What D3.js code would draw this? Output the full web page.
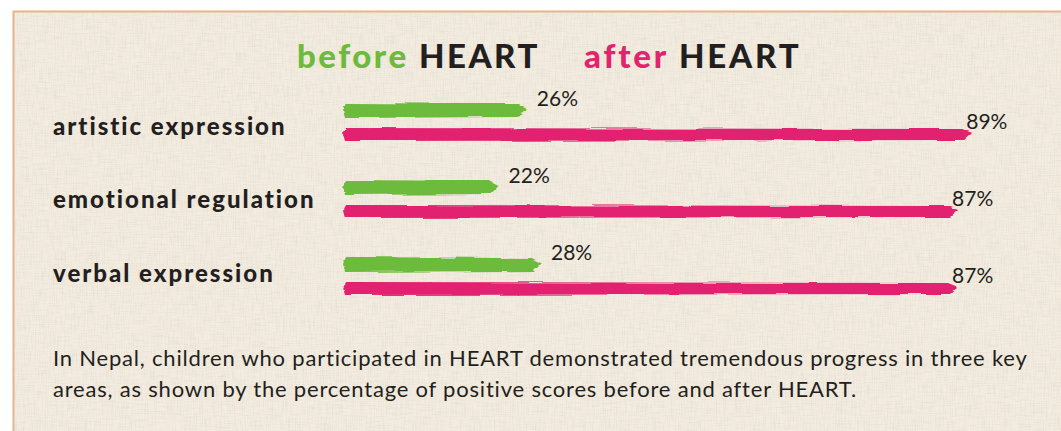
<!DOCTYPE html>
<html>
<head>
<meta charset="utf-8">
<script src="https://cdn.jsdelivr.net/npm/d3@7"></script>
<style>
  html, body { margin: 0; padding: 0; background: #fff; }
  svg { display: block; }
  text { font-family: Lato, "Open Sans", sans-serif; fill: #231f20; }
</style>
</head>
<body>
<div id="chart"></div>
<script>
// Data
const categories = ["artistic expression", "emotional regulation", "verbal expression"];
const before = [26, 22, 28];
const after = [89, 87, 87];
const caption = [
  "In Nepal, children who participated in HEART demonstrated tremendous progress in three key",
  "areas, as shown by the percentage of positive scores before and after HEART."
];

const green = "#6cbb3c";
const pink = "#e2246f";

function drawChart() {
  const width = 1061, height = 431;

  const svg = d3.select("#chart").append("svg")
    .attr("width", width)
    .attr("height", height);

  const defs = svg.append("defs");

  // linen texture (horizontal + vertical threads)
  const tex = defs.append("filter").attr("id", "linen")
    .attr("x", 0).attr("y", 0).attr("width", "100%").attr("height", "100%");
  tex.append("feTurbulence").attr("type", "fractalNoise")
    .attr("baseFrequency", "0.9 0.06").attr("numOctaves", 2).attr("seed", 3).attr("result", "n1");
  tex.append("feColorMatrix").attr("in", "n1").attr("type", "matrix")
    .attr("values", "0 0 0 0 0.6  0 0 0 0 0.56  0 0 0 0 0.5  0 0 0 -1.3 0.75");

  const tex2 = defs.append("filter").attr("id", "linen2")
    .attr("x", 0).attr("y", 0).attr("width", "100%").attr("height", "100%");
  tex2.append("feTurbulence").attr("type", "fractalNoise")
    .attr("baseFrequency", "0.06 0.9").attr("numOctaves", 2).attr("seed", 7).attr("result", "n1");
  tex2.append("feColorMatrix").attr("in", "n1").attr("type", "matrix")
    .attr("values", "0 0 0 0 0.62  0 0 0 0 0.58  0 0 0 0 0.52  0 0 0 -1.3 0.72");

  // brush roughness
  const brush = defs.append("filter").attr("id", "brush")
    .attr("x", "-2%").attr("y", "-60%").attr("width", "104%").attr("height", "220%");
  brush.append("feTurbulence").attr("type", "fractalNoise")
    .attr("baseFrequency", "0.02 0.35").attr("numOctaves", 2).attr("seed", 5).attr("result", "t");
  brush.append("feDisplacementMap").attr("in", "SourceGraphic").attr("in2", "t")
    .attr("scale", 4).attr("xChannelSelector", "R").attr("yChannelSelector", "G");

  // panel
  svg.append("rect")
    .attr("x", 13.5).attr("y", 11.5)
    .attr("width", width).attr("height", height)
    .attr("fill", "#f3ecdf")
    .attr("stroke", "#e6b48f").attr("stroke-width", 2);
  svg.append("rect")
    .attr("x", 14.5).attr("y", 12.5).attr("width", width).attr("height", height)
    .attr("filter", "url(#linen)").attr("opacity", 0.4);
  svg.append("rect")
    .attr("x", 14.5).attr("y", 12.5).attr("width", width).attr("height", height)
    .attr("filter", "url(#linen2)").attr("opacity", 0.4);

  // legend title
  const title = svg.append("text")
    .attr("x", 297).attr("y", 68)
    .style("font-size", "33px").style("font-weight", 900)
    .style("letter-spacing", "2.5px");
  title.append("tspan").style("fill", green).text("before ");
  title.append("tspan").text("HEART");
  const title2 = svg.append("text")
    .attr("x", 584).attr("y", 68)
    .style("font-size", "33px").style("font-weight", 900)
    .style("letter-spacing", "2.8px");
  title2.append("tspan").style("fill", pink).text("after ");
  title2.append("tspan").text("HEART");

  // scales
  const x = d3.scaleLinear().domain([0, 100]).range([343, 1050]);
  const y = d3.scaleBand().domain(categories).range([92, 323]);
  const yLab = d3.scaleBand().domain(categories).range([92, 312]);

  const rows = categories.map((c, i) => ({ cat: c, before: before[i], after: after[i] }));

  const g = svg.selectAll("g.row").data(rows).enter().append("g").attr("class", "row");

  g.append("text")
    .attr("x", 53)
    .attr("y", d => yLab(d.cat) + 43)
    .style("font-size", "24px").style("font-weight", 900)
    .style("letter-spacing", "2px")
    .text(d => d.cat);

  // brush stroke shape: thick body, tapered tail
  function stroke(x0, x1, cy, h) {
    const p = d3.path();
    p.moveTo(x0 + 3, cy - h / 2);
    p.lineTo(x1 - 10, cy - h / 2 + 1);
    p.lineTo(x1, cy - 1);
    p.lineTo(x1 - 8, cy + h / 2);
    p.lineTo(x0 + 2, cy + h / 2 + 1);
    p.lineTo(x0, cy);
    p.closePath();
    return p.toString();
  }

  g.append("path")
    .attr("d", d => stroke(x(0), x(d.before), y(d.cat) + 18, 14))
    .attr("fill", green)
    .attr("filter", "url(#brush)");
  g.append("path")
    .attr("d", d => stroke(x(0), x(d.after), y(d.cat) + 42, 12))
    .attr("fill", pink)
    .attr("filter", "url(#brush)");

  g.append("text")
    .attr("x", d => x(d.before) + 10)
    .attr("y", d => y(d.cat) + 14)
    .style("font-size", "21px")
    .text(d => d.before + "%");
  g.append("text")
    .attr("x", d => x(d.after) - 6)
    .attr("y", d => y(d.cat) + 37)
    .style("font-size", "21px")
    .text(d => d.after + "%");

  // caption
  svg.append("g").selectAll("text").data(caption).enter().append("text")
    .attr("x", 53)
    .attr("y", (d, i) => 366 + i * 31)
    .style("font-size", "22px")
    .style("letter-spacing", "0.8px")
    .text(d => d);
}

drawChart();
</script>
</body>
</html>
